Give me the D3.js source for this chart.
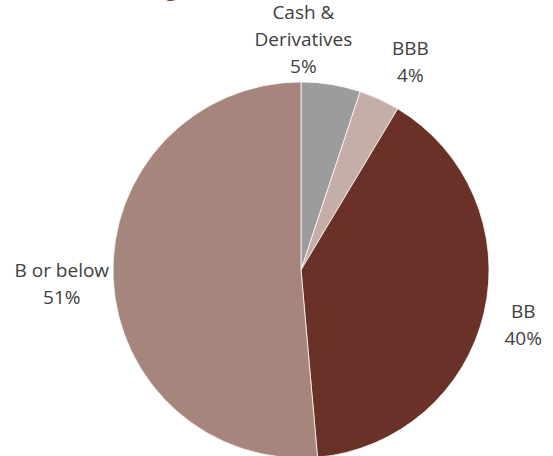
<!DOCTYPE html>
<html>
<head>
<meta charset="utf-8">
<script src="https://cdn.jsdelivr.net/npm/d3@7"></script>
<style>
  html, body { margin: 0; padding: 0; background: #ffffff; }
  svg { display: block; }
</style>
</head>
<body>
<svg id="chart" width="553" height="456"></svg>
<script>
// ---- data ----
const categories = ["Cash & Derivatives", "BBB", "BB", "B or below"];
const labelLines = [["Cash &", "Derivatives"], ["BBB"], ["BB"], ["B or below"]];
const values = [5.1, 3.5, 40.0, 51.4];
const valueLabels = ["5%", "4%", "40%", "51%"];
const colors = ["#9c9c9e", "#c5aea8", "#6a3127", "#a5857c"];
const titleText = "Credit Rating";

// ---- layout ----
const W = 553, H = 456;
const cx = 301, cy = 270, R = 188;
const fontSize = 19, lineH = 27, gap = 10;
// nudges for Excel-style label collision handling
const labelNudge = [[-37, 5], [19, -4], [11, 4], [6, 4]];

const svg = d3.select("#chart");

// partially visible title (cut off at top of frame, as in the reference)
svg.append("text")
  .attr("x", 178).attr("y", -4)
  .attr("text-anchor", "end")
  .attr("font-family", "'Open Sans', sans-serif")
  .attr("font-size", 22).attr("font-weight", "bold")
  .attr("fill", "#8b3a2f")
  .text(titleText);

const data = categories.map((c, i) => ({ cat: c, value: values[i], i }));
const pie = d3.pie().sort(null).value(d => d.value).startAngle(0).endAngle(2 * Math.PI);
const arc = d3.arc().innerRadius(0).outerRadius(R);
const arcs = pie(data);

const g = svg.append("g").attr("transform", `translate(${cx},${cy})`);
g.selectAll("path.slice")
  .data(arcs)
  .join("path")
  .attr("class", "slice")
  .attr("d", arc)
  .attr("fill", d => colors[d.data.i])
  .attr("stroke", "#ffffff")
  .attr("stroke-width", 0.75);

// labels
const lbl = g.selectAll("text.lbl")
  .data(arcs)
  .join("text")
  .attr("class", "lbl")
  .attr("font-family", "'Open Sans', sans-serif")
  .attr("font-size", fontSize)
  .attr("fill", "#404040")
  .attr("text-anchor", "middle");

lbl.each(function(d) {
  const i = d.data.i;
  const lines = labelLines[i].concat([valueLabels[i]]);
  const a = (d.startAngle + d.endAngle) / 2;
  const sx = Math.sin(a), sy = -Math.cos(a);
  const t = d3.select(this);
  lines.forEach((ln, k) => t.append("tspan").attr("x", 0).attr("dy", k === 0 ? 0 : lineH).text(ln));
  const bb = this.getBBox();
  const w = bb.width, h = lines.length * lineH;
  const px = (R + gap) * sx + sx * w / 2 + labelNudge[i][0];
  const py = (R + gap) * sy + sy * h / 2 + labelNudge[i][1];
  const y0 = py - (lines.length - 1) * lineH / 2 + 0.35 * fontSize;
  t.attr("transform", `translate(${px},${y0})`);
});
</script>
</body>
</html>
